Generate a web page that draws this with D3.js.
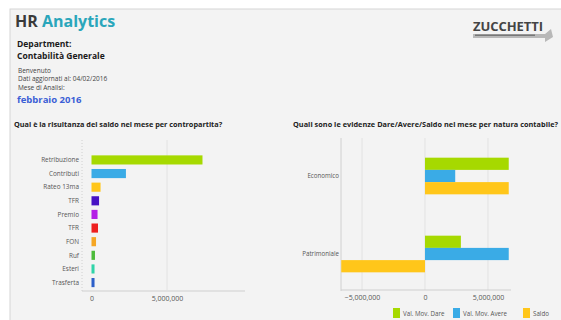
<!DOCTYPE html>
<html>
<head>
<meta charset="utf-8">
<script src="https://cdn.jsdelivr.net/npm/d3@7"></script>
<style>
  body { margin: 0; background: #fff; }
  svg { display: block; font-family: "Open Sans", "DejaVu Sans", sans-serif; }
</style>
</head>
<body>
<svg id="chart" width="561" height="320"></svg>
<script>
// left chart: saldo per contropartita
var contropartite = ["Retribuzione", "Contributi", "Rateo 13ma", "TFR", "Premio", "TFR", "FON", "Ruf", "Esteri", "Trasferta"];
var saldoContro = [7350000, 2280000, 600000, 500000, 400000, 430000, 300000, 230000, 200000, 200000];
var colorsContro = ["#a6d900", "#3aabe6", "#ffc61a", "#4712c4", "#b41fe6", "#ee2020", "#f5a623", "#4cbb3a", "#30d4a8", "#2b5fc9"];
var leftTicks = [0, 5000000];

// right chart: Dare/Avere/Saldo per natura contabile
var nature = ["Economico", "Patrimoniale"];
var serie = ["Val. Mov. Dare", "Val. Mov. Avere", "Saldo"];
var dare = [6650000, 2850000];
var avere = [2400000, 6650000];
var saldo = [6650000, -6650000];
var colorsSerie = ["#a6d900", "#3aabe6", "#ffc61a"];
var rightTicks = [-5000000, 0, 5000000];

var svg = d3.select("#chart");
var fmt = d3.format(",");

// panel
svg.append("rect").attr("x", 10).attr("y", 9).attr("width", 560).attr("height", 320)
    .attr("fill", "#f3f3f3").attr("stroke", "#d6d6d6");

// header
var title = svg.append("text").attr("x", 15).attr("y", 27)
    .style("font-size", "16px").style("font-weight", "bold");
title.append("tspan").attr("fill", "#3a3a3a").text("HR ");
title.append("tspan").attr("fill", "#2aa6bb").text("Analytics");

svg.append("text").attr("x", 17).attr("y", 47).attr("fill", "#1a1a1a")
    .style("font-size", "8.5px").style("font-weight", "bold").text("Department:");
svg.append("text").attr("x", 17).attr("y", 59).attr("fill", "#1a1a1a")
    .style("font-size", "8.5px").style("font-weight", "bold").text("Contabilità Generale");
[["Benvenuto", 73], ["Dati aggiornati al: 04/02/2016", 81], ["Mese di Analisi:", 90]].forEach(function(d) {
    svg.append("text").attr("x", 18).attr("y", d[1]).attr("fill", "#444")
        .style("font-size", "6.5px").text(d[0]);
});
svg.append("text").attr("x", 17).attr("y", 103).attr("fill", "#3b5fd6")
    .style("font-size", "9.5px").style("font-weight", "bold").text("febbraio 2016");

// logo
var logo = svg.append("g").attr("transform", "translate(473,18)");
logo.append("path").attr("d", "M0,16 L72,16 L78,11 L80,19 L72,24 L72,20 L0,20 Z").attr("fill", "#b8b8b8");
logo.append("text").attr("x", 0).attr("y", 13).attr("fill", "#444")
    .style("font-size", "13px").style("font-weight", "bold").attr("textLength", 70).text("ZUCCHETTI");
logo.append("rect").attr("x", 2).attr("y", 16.5).attr("width", 60).attr("height", 1.5).attr("fill", "#777");

// chart titles
svg.append("text").attr("x", 14).attr("y", 127).attr("fill", "#222")
    .style("font-size", "7.3px").style("font-weight", "bold")
    .text("Qual è la risultanza del saldo nel mese per contropartita?");
svg.append("text").attr("x", 293).attr("y", 127).attr("fill", "#222")
    .style("font-size", "7.3px").style("font-weight", "bold").attr("textLength", 265)
    .text("Quali sono le evidenze Dare/Avere/Saldo nel mese per natura contabile?");

// ---- left chart ----
var xL = d3.scaleLinear().domain([0, 10000000]).range([91.5, 242.5]);
var yL = d3.scaleBand().domain(d3.range(contropartite.length)).range([154, 288.5]).paddingInner(0.33).paddingOuter(0.1);

svg.append("line").attr("x1", xL(5000000)).attr("x2", xL(5000000)).attr("y1", 140).attr("y2", 290)
    .attr("stroke", "#e2e2e2");
svg.append("line").attr("x1", 82).attr("x2", 82).attr("y1", 140).attr("y2", 291)
    .attr("stroke", "#d0d0d0").attr("stroke-dasharray", "1,2");

svg.append("g").selectAll("rect").data(saldoContro).enter().append("rect")
    .attr("x", xL(0))
    .attr("y", function(d, i) { return yL(i); })
    .attr("width", function(d) { return xL(d) - xL(0); })
    .attr("height", yL.bandwidth())
    .attr("fill", function(d, i) { return colorsContro[i]; });

svg.append("g").selectAll("text").data(contropartite).enter().append("text")
    .attr("x", 79)
    .attr("y", function(d, i) { return yL(i) + yL.bandwidth() / 2 + 2.2; })
    .attr("text-anchor", "end").attr("fill", "#555")
    .style("font-size", "6.4px").text(function(d) { return d; });

svg.append("line").attr("x1", 82).attr("x2", 245).attr("y1", 291).attr("y2", 291)
    .attr("stroke", "#cfcfcf");
var axL = svg.append("g").attr("transform", "translate(0,293)")
    .call(d3.axisBottom(xL).tickValues(leftTicks).tickSize(0).tickFormat(fmt));
axL.select(".domain").remove();
axL.selectAll("text").attr("fill", "#555").style("font-size", "7px")
    .style("font-family", "'Open Sans', sans-serif");

// ---- right chart ----
var xR = d3.scaleLinear().domain([-6670000, 6830000]).range([341, 511]);
var yR = d3.scaleBand().domain(nature).range([137, 293]).paddingInner(0.53).paddingOuter(0.265);
var ySub = d3.scaleBand().domain(serie).range([0, yR.bandwidth()]);

rightTicks.forEach(function(t) {
    svg.append("line").attr("x1", xR(t)).attr("x2", xR(t)).attr("y1", 138).attr("y2", 290)
        .attr("stroke", "#e2e2e2");
});
svg.append("line").attr("x1", 341).attr("x2", 341).attr("y1", 138).attr("y2", 291)
    .attr("stroke", "#d0d0d0");

var rows = nature.map(function(n, i) { return [dare[i], avere[i], saldo[i]]; });
var groups = svg.append("g").selectAll("g").data(rows).enter().append("g")
    .attr("transform", function(d, i) { return "translate(0," + yR(nature[i]) + ")"; });
groups.selectAll("rect").data(function(d) { return d; }).enter().append("rect")
    .attr("x", function(d) { return xR(Math.min(0, d)); })
    .attr("y", function(d, j) { return ySub(serie[j]); })
    .attr("width", function(d) { return Math.abs(xR(d) - xR(0)); })
    .attr("height", ySub.bandwidth())
    .attr("fill", function(d, j) { return colorsSerie[j]; });

svg.append("g").selectAll("text").data(nature).enter().append("text")
    .attr("x", 339)
    .attr("y", function(d) { return yR(d) + yR.bandwidth() / 2 + 2; })
    .attr("text-anchor", "end").attr("fill", "#555")
    .style("font-size", "6.2px").text(function(d) { return d; });

svg.append("line").attr("x1", 341).attr("x2", 511).attr("y1", 290).attr("y2", 290)
    .attr("stroke", "#cfcfcf");
var axR = svg.append("g").attr("transform", "translate(0,292)")
    .call(d3.axisBottom(xR).tickValues(rightTicks).tickSize(0).tickFormat(fmt));
axR.select(".domain").remove();
axR.selectAll("text").attr("fill", "#555").style("font-size", "7px")
    .style("font-family", "'Open Sans', sans-serif");

// legend
var legX = [393, 453, 523];
var leg = svg.append("g").selectAll("g").data(serie).enter().append("g")
    .attr("transform", function(d, i) { return "translate(" + legX[i] + ",308)"; });
leg.append("rect").attr("width", 7).attr("height", 10)
    .attr("fill", function(d, i) { return colorsSerie[i]; });
leg.append("text").attr("x", 10).attr("y", 7.5).attr("fill", "#555")
    .style("font-size", "6.2px").text(function(d) { return d; });
</script>
</body>
</html>
